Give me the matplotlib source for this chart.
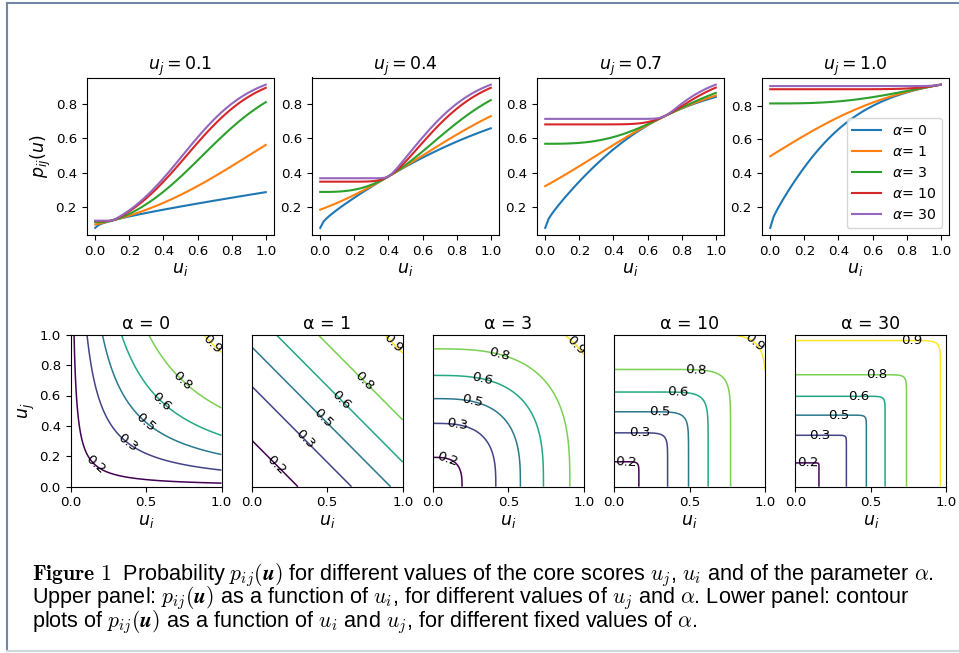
import numpy as np
import matplotlib.pyplot as plt
from matplotlib.lines import Line2D

# values
alphas = [0, 1, 3, 10, 30]
uj_values = [0.1, 0.4, 0.7, 1.0]
contour_levels = [0.15, 0.30, 0.45, 0.60, 0.75, 0.90]
# logistic link: p(0)=0.076, p(0.5)=0.5, p(1)=0.924
slope = 5.0
midpoint = 0.5
n_line = 51
n_grid = 200

# where the contour labels sit in each lower panel (layout only)
label_spots = [
    [(0.17, 0.15), (0.38, 0.29), (0.50, 0.43), (0.60, 0.56), (0.74, 0.70), (0.94, 0.94)],
    [(0.17, 0.15), (0.35, 0.31), (0.47, 0.45), (0.60, 0.58), (0.75, 0.70), (0.94, 0.95)],
    [(0.10, 0.19), (0.16, 0.41), (0.26, 0.56), (0.33, 0.71), (0.44, 0.87), (0.95, 0.93)],
    [(0.08, 0.16), (0.17, 0.36), (0.30, 0.49), (0.42, 0.63), (0.54, 0.77), (0.93, 0.95)],
    [(0.08, 0.16), (0.16, 0.34), (0.29, 0.47), (0.42, 0.60), (0.54, 0.74), (0.77, 0.96)],
]

caption_lines = [
    r"$\mathbf{Figure\ 1}$  Probability $p_{ij}(\boldsymbol{u})$ for different values of the core scores $u_j$, $u_i$ and of the parameter $\alpha$.",
    r"Upper panel: $p_{ij}(\boldsymbol{u})$ as a function of $u_i$, for different values of $u_j$ and $\alpha$. Lower panel: contour",
    r"plots of $p_{ij}(\boldsymbol{u})$ as a function of $u_i$ and $u_j$, for different fixed values of $\alpha$.",
]


def power_mean(x, y, a):
    if a == 0:
        return np.sqrt(x * y)
    return ((x ** a + y ** a) / 2) ** (1 / a)


def prob(x, y, a):
    return 1 / (1 + np.exp(-slope * (power_mean(x, y, a) - midpoint)))


plt.rcParams["font.size"] = 9.6
W, H = 959, 653
fig = plt.figure(figsize=(W / 100, H / 100), dpi=100)


def px_box(left, top, width, height):
    return [left / W, 1 - (top + height) / H, width / W, height / H]


# upper panel: p_ij as function of u_i
ui = np.linspace(0, 1, n_line)
top_lefts = [86.7, 311.7, 536.7, 761.7]
for k, uj in enumerate(uj_values):
    ax = fig.add_axes(px_box(top_lefts[k], 77.5, 187.6, 157.5))
    for a in alphas:
        ax.plot(ui, prob(ui, uj, a), label=rf"$\alpha$= {a}")
    ax.set_title(rf"$u_j = {uj}$", fontsize=12.5, pad=4)
    ax.set_xlabel(r"$u_i$", fontsize=12.5, labelpad=2)
    ax.set_xticks([0.0, 0.2, 0.4, 0.6, 0.8, 1.0])
    ax.set_yticks([0.2, 0.4, 0.6, 0.8])
    if k == 0:
        ax.set_ylabel(r"$p_{ij}(u)$", fontsize=12.5, labelpad=2)
    if k == 3:
        ax.legend(loc="lower right", fontsize=10.2, handlelength=2.0)

# lower panel: contour plots
ug = np.linspace(0, 1, n_grid)
X, Y = np.meshgrid(ug, ug)
bottom_lefts = [70.5, 251.7, 432.9, 614.1, 795.3]
for k, a in enumerate(alphas):
    ax = fig.add_axes(px_box(bottom_lefts[k], 334.7, 151.0, 152.0))
    cs = ax.contour(X, Y, prob(X, Y, a), levels=contour_levels,
                    cmap="viridis", linewidths=1.1)
    ax.clabel(cs, fmt=lambda v: f"{v + 1e-9:.1f}", inline=False,
              fontsize=9.6, colors="k", manual=label_spots[k])
    ax.set_title(f"α = {a}", fontsize=12.5, pad=4)
    ax.set_xlabel(r"$u_i$", fontsize=12.5, labelpad=2)
    ax.set_xticks([0.0, 0.5, 1.0])
    ax.set_xlim(0, 1)
    ax.set_ylim(0, 1)
    if k == 0:
        ax.set_ylabel(r"$u_j$", fontsize=12.5, labelpad=2)
    else:
        ax.tick_params(left=False, labelleft=False)

# caption, one text block so the lines keep their spacing
# (va="baseline" pins the baseline of the last line)
fig.text(32.5 / W, 1 - 627.0 / H, "\n".join(caption_lines), fontsize=15.6,
         family="Liberation Sans", math_fontfamily="cm", va="baseline",
         linespacing=0.76)

# frame around the figure
frame_col = "#7289a6"
fig.add_artist(Line2D([6.8 / W, 1], [1 - 3.3 / H, 1 - 3.3 / H],
                      transform=fig.transFigure, color=frame_col, lw=1.5))
fig.add_artist(Line2D([6.8 / W, 6.8 / W], [1 - 3.3 / H, 1 - 650.5 / H],
                      transform=fig.transFigure, color=frame_col, lw=1.5))
fig.add_artist(Line2D([6.8 / W, 1], [1 - 650.5 / H, 1 - 650.5 / H],
                      transform=fig.transFigure, color="#cfd6de", lw=1.5))

fig.savefig("out.png", dpi=100)
